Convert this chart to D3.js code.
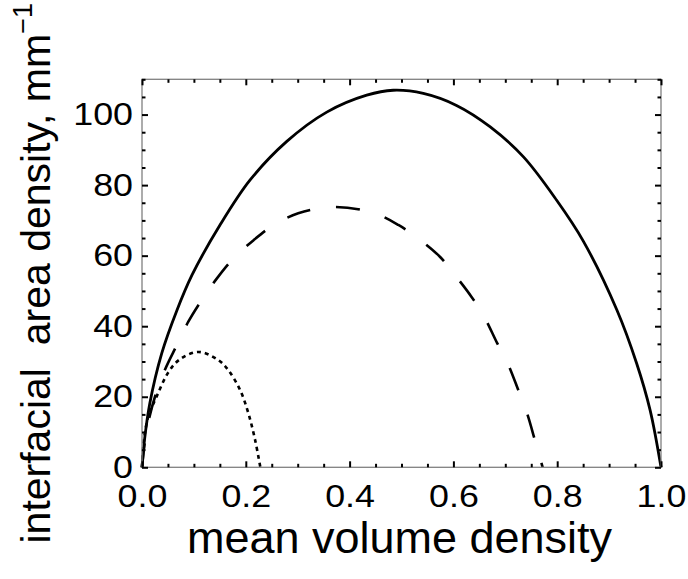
<!DOCTYPE html>
<html>
<head>
  <script src="https://d3js.org/d3.v7.min.js"></script>
  <style>
    html, body {
      margin: 0px;
      padding: 0px;
      background: #fff;
      font-family: "Liberation Sans", Arial, Helvetica, sans-serif;
    }

    .tickLabel text {
      font-size: 32px;
      fill: #000;
    }

    .axisLabel {
      font-size: 45px;
      fill: #000;
      white-space: pre;
    }
  </style>
</head>
<body>
  <div id="chart"></div>
  <script>

      /*
      DATA
      */
      const xMajor = [0, 0.2, 0.4, 0.6, 0.8, 1.0];
      const xTickLabels = ["0.0", "0.2", "0.4", "0.6", "0.8", "1.0"];
      const xMinor = [0.05, 0.1, 0.15, 0.25, 0.3, 0.35, 0.45, 0.5, 0.55, 0.65, 0.7, 0.75, 0.85, 0.9, 0.95];

      const yMajor = [0, 20, 40, 60, 80, 100];
      const yTickLabels = ["0", "20", "40", "60", "80", "100"];
      const yMinor = [5, 10, 15, 25, 30, 35, 45, 50, 55, 65, 70, 75, 85, 90, 95, 105, 110];

      // solid curve
      const solidX = [0, 0.005, 0.015, 0.038, 0.067, 0.096, 0.150, 0.208, 0.279, 0.356, 0.433, 0.484,
                      0.542, 0.606, 0.671, 0.735, 0.799, 0.850, 0.915, 0.953, 0.979, 1.0];
      const solidY = [0, 8, 18.1, 32.3, 44.4, 54.4, 68.6, 81.4, 92.4, 100.7, 105.5, 106.9,
                      106, 102.6, 96.5, 88, 75.7, 64.2, 44.6, 29.5, 16.2, 0];

      // dashed curve
      const dashedX = [0, 0.009, 0.025, 0.044, 0.067, 0.089, 0.115, 0.144, 0.176, 0.215, 0.253, 0.301,
                       0.372, 0.446, 0.494, 0.532, 0.574, 0.603, 0.635, 0.661, 0.683, 0.706, 0.725,
                       0.742, 0.757, 0.772];
      const dashedY = [0, 10.6, 20, 27.6, 34.6, 41.2, 47.4, 53.5, 59.2, 64.4, 68.6, 72.0,
                       73.8, 72.1, 68.7, 64.9, 59.7, 54.5, 48.3, 42.2, 35.6, 29, 21.9,
                       15.3, 7.7, 0];

      // dotted curve
      const dottedX = [0, 0.003, 0.012, 0.028, 0.051, 0.073, 0.109, 0.147, 0.166, 0.189, 0.205, 0.218, 0.228];
      const dottedY = [0, 6.8, 14.3, 20, 27.0, 30.6, 32.7, 30.4, 27.6, 21.9, 15.3, 7.7, 0];

      /*
      SVG CANVAS
      */
      const width = 688;
      const height = 579;
      const margin = {top: 79.3, left: 142, right: 27, bottom: 111.7};

      const svg = d3.select("#chart")
        .append("svg")
        .attr("width", width)
        .attr("height", height);

      /*
      SCALES
      */
      const xScale = d3.scaleLinear()
        .domain([0, 1])
        .range([margin.left, width - margin.right]);

      const yScale = d3.scaleLinear()
        .domain([0, 110])
        .range([height - margin.bottom, margin.top]);

      /*
      CURVES
      */
      const line = d3.line()
        .x(function(d) { return xScale(d[0]); })
        .y(function(d) { return yScale(d[1]); })
        .curve(d3.curveCatmullRom.alpha(0.5));

      const series = [
        {xs: solidX, ys: solidY, dash: null, w: 2.8},
        {xs: dashedX, ys: dashedY, dash: "24,26", w: 2.6},
        {xs: dottedX, ys: dottedY, dash: "4,4", w: 2.6}
      ];

      series.forEach(function(s) {
        svg.append("path")
          .datum(d3.zip(s.xs, s.ys))
          .attr("d", line)
          .attr("fill", "none")
          .attr("stroke", "#000")
          .attr("stroke-width", s.w)
          .attr("stroke-dasharray", s.dash);
      });

      /*
      FRAME AND TICKS (inward, mirrored on all four sides)
      */
      svg.append("rect")
        .attr("x", xScale(0))
        .attr("y", yScale(110))
        .attr("width", xScale(1) - xScale(0))
        .attr("height", yScale(0) - yScale(110))
        .attr("fill", "none")
        .attr("stroke", "#808080")
        .attr("stroke-width", 1.3);

      function addAxis(axis, tx, ty, cls) {
        const g = svg.append("g")
          .attr("class", cls)
          .attr("transform", `translate(${tx},${ty})`)
          .call(axis);
        g.select(".domain").remove();
        g.selectAll(".tick line").attr("stroke", "#000").attr("stroke-width", 2);
        return g;
      }

      const bottomY = yScale(0), topY = yScale(110);
      const leftX = xScale(0), rightX = xScale(1);

      // bottom
      const xLab = addAxis(d3.axisBottom(xScale).tickValues(xMajor).tickSize(-6).tickPadding(17)
        .tickFormat(function(d, i) { return xTickLabels[i]; }), 0, bottomY, "tickLabel");
      addAxis(d3.axisBottom(xScale).tickValues(xMinor).tickSize(-3.5).tickFormat(""), 0, bottomY, "minor");
      // top
      addAxis(d3.axisTop(xScale).tickValues(xMajor).tickSize(-6).tickFormat(""), 0, topY, "major");
      addAxis(d3.axisTop(xScale).tickValues(xMinor).tickSize(-3.5).tickFormat(""), 0, topY, "minor");
      // left
      const yLab = addAxis(d3.axisLeft(yScale).tickValues(yMajor).tickSize(-6).tickPadding(9)
        .tickFormat(function(d, i) { return yTickLabels[i]; }), leftX, 0, "tickLabel");
      addAxis(d3.axisLeft(yScale).tickValues(yMinor).tickSize(-3.5).tickFormat(""), leftX, 0, "minor");
      // right
      addAxis(d3.axisRight(yScale).tickValues(yMajor).tickSize(-6).tickFormat(""), rightX, 0, "major");
      addAxis(d3.axisRight(yScale).tickValues(yMinor).tickSize(-3.5).tickFormat(""), rightX, 0, "minor");

      // the reference digits are a little wider than the font
      svg.selectAll(".tickLabel").attr("font-family", null);
      xLab.selectAll("text").attr("transform", "scale(1.12,1)");
      yLab.selectAll("text").attr("x", -8).attr("transform", "scale(1.12,1)");

      /*
      AXIS LABELS
      */
      svg.append("text")
        .attr("class", "axisLabel")
        .attr("x", (leftX + rightX) / 2 - 2)
        .attr("y", 553)
        .attr("text-anchor", "middle")
        .text("mean volume density");

      const yLabel = svg.append("text")
        .attr("class", "axisLabel")
        .attr("x", -(topY + bottomY) / 2)
        .attr("y", 50)
        .attr("text-anchor", "middle")
        .attr("transform", "rotate(-90)")
        .style("font-size", "41px");

      yLabel.append("tspan").text("interfacial  area density, mm");
      yLabel.append("tspan")
        .attr("dy", -18)
        .style("font-size", "27px")
        .text("\u22121");

  </script>
</body>
</html>
